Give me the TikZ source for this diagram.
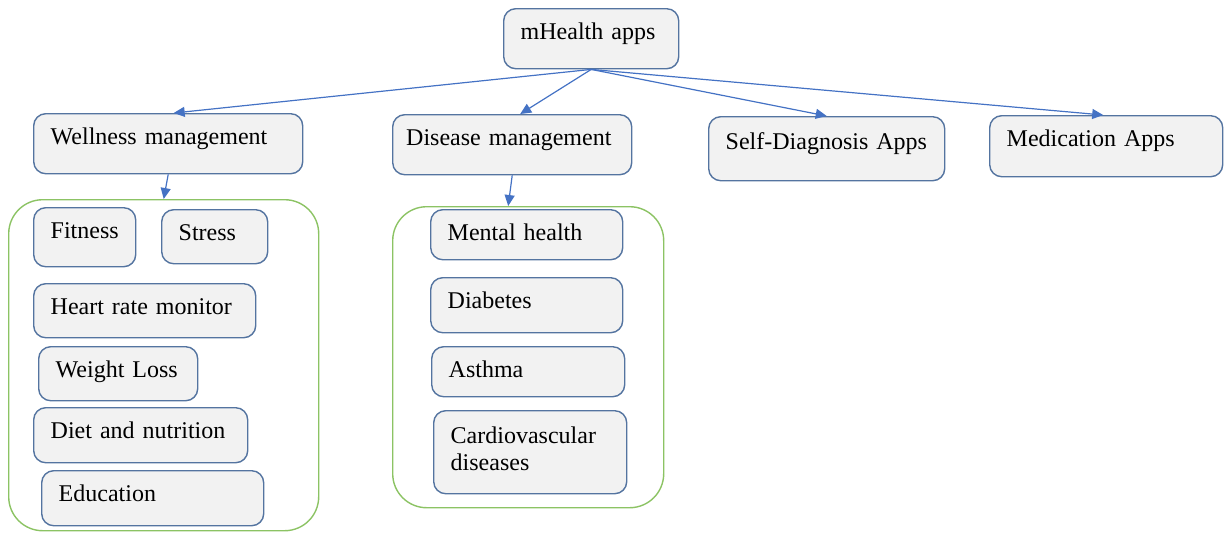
\documentclass[tikz,border=0pt]{standalone}
\usepackage{fontspec}
\setmainfont{LiberationSerif}[Extension=.ttf, UprightFont=*-Regular, BoldFont=*-Bold]
\usetikzlibrary{arrows.meta}

\definecolor{boxline}{RGB}{84,116,160}
\definecolor{boxfill}{RGB}{242,242,242}
\definecolor{arrowblue}{RGB}{68,114,196}
\definecolor{groupgreen}{RGB}{140,195,100}

\tikzset{
  appbox/.style={draw=boxline, fill=boxfill, line width=0.7pt, rounded corners=6pt,
    anchor=north west, align=left, inner xsep=8.5pt, inner ysep=0pt, text height=15.5pt},
  groupbox/.style={draw=groupgreen, line width=0.7pt, rounded corners=17pt,
    anchor=north west, inner sep=0pt},
  link/.style={draw=arrowblue, line width=0.6pt, -{Triangle[length=5.5pt,width=5pt]}}
}

\begin{document}
\begin{tikzpicture}[x=0.5pt, y=-0.5pt, font=\fontsize{12}{13.5}\selectfont]
    \useasboundingbox (0,0) rectangle (1225,532);
    % groups
    \node[groupbox, minimum width=155pt, minimum height=165.5pt] (wg) at (8,199) {};
    \node[groupbox, minimum width=135.5pt, minimum height=150.5pt] (dg) at (392,206) {};
    % top level
    \node[appbox, text width=70.5pt, text depth=14.5pt] (top) at (503,8) {mHealth apps};
    \node[appbox, text width=117.5pt, text depth=14.5pt] (wm) at (33,113) {Wellness management};
    \node[appbox, text width=106pt, inner xsep=6.75pt, text depth=14.5pt] (dm) at (392,114) {Disease management};
    \node[appbox, text width=101pt, text depth=15.5pt, text height=16.5pt] (sd) at (708,116) {Self-Diagnosis Apps};
    \node[appbox, text width=99.5pt, text depth=15pt] (med) at (989,115) {Medication Apps};
    % wellness
    \node[appbox, text width=34pt, text depth=14pt] (fit) at (33,207) {Fitness};
    \node[appbox, text width=36pt, text depth=11.5pt] (st) at (161,209) {Stress};
    \node[appbox, text width=94pt, text depth=11.5pt] (hr) at (33,283) {Heart rate monitor};
    \node[appbox, text width=62.5pt, text depth=11.5pt] (wl) at (38,346) {Weight Loss};
    \node[appbox, text width=90pt, text depth=12pt] (dn) at (33,407) {Diet and nutrition};
    \node[appbox, text width=94pt, text depth=12pt] (ed) at (41,470) {Education};
    % disease
    \node[appbox, text width=79pt, text depth=9.5pt] (mh) at (430,209) {Mental health};
    \node[appbox, text width=79pt, text depth=12pt] (db) at (430,277) {Diabetes};
    \node[appbox, text width=79.5pt, text depth=9.5pt] (as) at (431,346) {Asthma};
    \node[appbox, text width=79.5pt, text height=16.5pt, text depth=25pt] (cv) at (433,410) {Cardiovascular\\diseases};
    % links
    \draw[link] (top.south) to ([xshift=2.75pt]wm.north);
    \draw[link] (top.south) to ([xshift=4pt]dm.north);
    \draw[link] (top.south) to (sd.north);
    \draw[link] (top.south) to ([xshift=-1.5pt]med.north);
    \draw[link] (wm.south) to (wg.north);
    \draw[link] (dm.south) to ([xshift=-10pt]dg.north);
  \end{tikzpicture}
\end{document}
